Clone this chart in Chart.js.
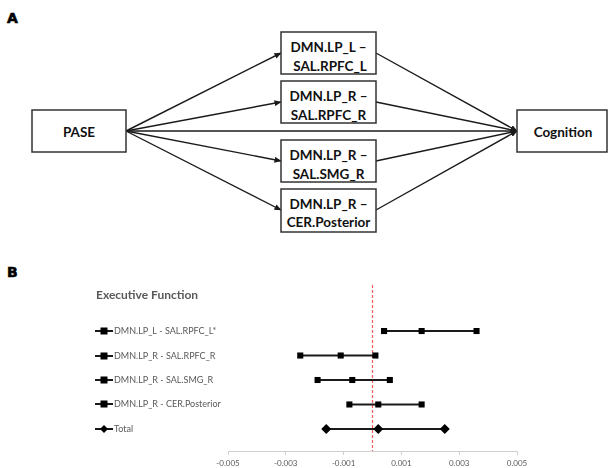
<!DOCTYPE html>
<html>
<head>
<meta charset="utf-8">
<script src="https://cdn.jsdelivr.net/npm/chart.js@4"></script>
<style>
  body { margin: 0; background: #fff; }
  #page { position: relative; width: 610px; height: 468px; overflow: hidden; }
  #diagram { position: absolute; left: 0; top: 0; }
  #panelB { position: absolute; left: 0; top: 260px; width: 610px; height: 208px; }
  .tag { position: absolute; font-family: "DejaVu Sans", sans-serif; font-weight: bold; font-size: 14px; color: #000; -webkit-text-stroke: 0.6px #000; }
</style>
</head>
<body>
<div id="page">
  <div class="tag" style="left:7px; top:10px;">A</div>
  <div class="tag" style="left:7px; top:264px;">B</div>

  <svg id="diagram" width="610" height="245" xmlns="http://www.w3.org/2000/svg">
    <defs>
      <marker id="head" markerWidth="7" markerHeight="6" refX="6.5" refY="3" orient="auto" markerUnits="userSpaceOnUse">
        <path d="M0,0 L7,3 L0,6 Z" fill="#1a1a1a"/>
      </marker>
    </defs>
    <g stroke="#1a1a1a" stroke-width="1.4" fill="none">
      <!-- PASE to mediators -->
      <line x1="126" y1="131" x2="281" y2="53" marker-end="url(#head)"/>
      <line x1="126" y1="131" x2="281" y2="102" marker-end="url(#head)"/>
      <line x1="126" y1="131" x2="281" y2="161" marker-end="url(#head)"/>
      <line x1="126" y1="131" x2="281" y2="210" marker-end="url(#head)"/>
      <!-- mediators to Cognition -->
      <line x1="376" y1="53" x2="517" y2="131" marker-end="url(#head)"/>
      <line x1="376" y1="102" x2="517" y2="131" marker-end="url(#head)"/>
      <line x1="376" y1="161" x2="517" y2="131" marker-end="url(#head)"/>
      <line x1="376" y1="210" x2="517" y2="131" marker-end="url(#head)"/>
      <!-- direct path -->
      <line x1="126" y1="131" x2="517" y2="131" marker-end="url(#head)"/>
    </g>
    <g stroke="#333" stroke-width="1.5" fill="#fff">
      <rect x="32" y="110" width="94" height="42"/>
      <rect x="517" y="110" width="90" height="42"/>
      <rect x="281" y="32" width="95" height="42"/>
      <rect x="281" y="81" width="95" height="42"/>
      <rect x="281" y="140" width="95" height="42"/>
      <rect x="281" y="189" width="95" height="43"/>
    </g>
    <g font-family="Lato, 'Open Sans', sans-serif" font-weight="bold" font-size="13.5" fill="#111" text-anchor="middle">
      <text x="79" y="136.5">PASE</text>
      <text x="563" y="136.5">Cognition</text>
      <text x="328.5" y="52">DMN.LP_L –</text>
      <text x="330" y="70.5">SAL.RPFC_L</text>
      <text x="328.5" y="101">DMN.LP_R –</text>
      <text x="328.5" y="119.5">SAL.RPFC_R</text>
      <text x="328.5" y="160">DMN.LP_R –</text>
      <text x="328.5" y="178.5">SAL.SMG_R</text>
      <text x="328.5" y="208.5">DMN.LP_R –</text>
      <text x="328.5" y="227">CER.Posterior</text>
    </g>
  </svg>

  <div id="panelB"><canvas id="forest" width="610" height="208"></canvas></div>
</div>

<script>
// forest plot values
const rowLabels = ['DMN.LP_L - SAL.RPFC_L*', 'DMN.LP_R - SAL.RPFC_R', 'DMN.LP_R - SAL.SMG_R', 'DMN.LP_R - CER.Posterior', 'Total'];
const lowerCI = [0.0004, -0.0025, -0.0019, -0.0008, -0.0016];
const estimate = [0.0017, -0.0011, -0.0007, 0.0002, 0.0002];
const upperCI = [0.0036, 0.0001, 0.0006, 0.0017, 0.0025];
const xTicks = [-0.005, -0.003, -0.001, 0.001, 0.003, 0.005];
const panelTitle = 'Executive Function';

const greyText = '#595959';

// draws the null line, the title and the left hand row legend
const forestDecor = {
  id: 'forestDecor',
  beforeDatasetsDraw(chart) {
    const ctx = chart.ctx;
    const x0 = chart.scales.x.getPixelForValue(0);
    const area = chart.chartArea;
    ctx.save();
    ctx.strokeStyle = 'rgb(245, 90, 90)';
    ctx.lineWidth = 1.2;
    ctx.setLineDash([3, 2]);
    ctx.beginPath();
    ctx.moveTo(x0, area.top);
    ctx.lineTo(x0, area.bottom);
    ctx.stroke();
    ctx.restore();
  },
  afterDraw(chart) {
    const ctx = chart.ctx;
    const yScale = chart.scales.y;
    ctx.save();
    ctx.fillStyle = greyText;
    ctx.font = 'bold 12px Lato, sans-serif';
    ctx.textBaseline = 'middle';
    ctx.fillText(panelTitle, 96, 35);

    rowLabels.forEach((lab, i) => {
      const y = Math.round(yScale.getPixelForValue(i));
      ctx.strokeStyle = '#1a1a1a';
      ctx.lineWidth = 2;
      ctx.beginPath();
      ctx.moveTo(95, y);
      ctx.lineTo(113, y);
      ctx.stroke();
      ctx.fillStyle = '#000';
      if (i === rowLabels.length - 1) {
        ctx.beginPath();
        ctx.moveTo(104, y - 4);
        ctx.lineTo(108, y);
        ctx.lineTo(104, y + 4);
        ctx.lineTo(100, y);
        ctx.closePath();
        ctx.fill();
      } else {
        ctx.fillRect(100.5, y - 3.5, 7, 7);
      }
      ctx.fillStyle = greyText;
      ctx.font = '9px Lato, sans-serif';
      ctx.fillText(lab, 114, y + 0.5);
    });
    ctx.restore();
  }
};

const datasets = rowLabels.map((lab, i) => ({
  label: lab,
  data: [
    { x: lowerCI[i], y: i },
    { x: estimate[i], y: i },
    { x: upperCI[i], y: i }
  ],
  showLine: true,
  borderColor: '#1a1a1a',
  borderWidth: 2,
  backgroundColor: '#000',
  pointBackgroundColor: '#000',
  pointBorderColor: '#000',
  pointBorderWidth: 0,
  pointStyle: i === rowLabels.length - 1 ? 'rectRot' : 'rect',
  pointRadius: i === rowLabels.length - 1 ? 5 : 4.3
}));

new Chart(document.getElementById('forest').getContext('2d'), {
  type: 'scatter',
  data: { datasets: datasets },
  options: {
    responsive: false,
    animation: false,
    layout: { padding: { left: 228, right: 93, top: 25, bottom: 0 } },
    plugins: {
      legend: { display: false },
      tooltip: { enabled: false }
    },
    scales: {
      x: {
        type: 'linear',
        min: -0.005,
        max: 0.005,
        afterBuildTicks: (scale) => {
          scale.ticks = xTicks.map(v => ({ value: v }));
        },
        afterFit: (scale) => { scale.height = 17; },
        ticks: {
          callback: (v) => Number(v).toFixed(3),
          color: greyText,
          font: { family: 'Lato, sans-serif', size: 8 },
          padding: 4,
          maxRotation: 0
        },
        grid: { drawOnChartArea: false, tickLength: 4, color: '#d0d0d0' },
        border: { color: '#d0d0d0' }
      },
      y: {
        type: 'linear',
        reverse: true,
        min: -1.88,
        max: 4.9,
        display: false
      }
    }
  },
  plugins: [forestDecor]
});
</script>
</body>
</html>
